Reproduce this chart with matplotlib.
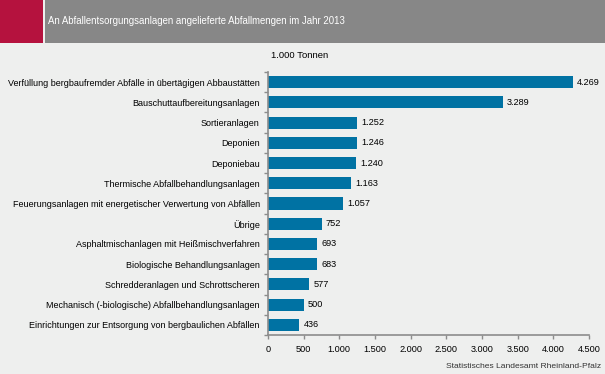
import matplotlib.pyplot as plt
from matplotlib.patches import Rectangle
import numpy as np

plt.rcParams['font.family'] = ['Liberation Sans', 'DejaVu Sans']

categories = [
    'Verfüllung bergbaufremder Abfälle in übertägigen Abbaustätten',
    'Bauschuttaufbereitungsanlagen',
    'Sortieranlagen',
    'Deponien',
    'Deponiebau',
    'Thermische Abfallbehandlungsanlagen',
    'Feuerungsanlagen mit energetischer Verwertung von Abfällen',
    'Übrige',
    'Asphaltmischanlagen mit Heißmischverfahren',
    'Biologische Behandlungsanlagen',
    'Schredderanlagen und Schrottscheren',
    'Mechanisch (-biologische) Abfallbehandlungsanlagen',
    'Einrichtungen zur Entsorgung von bergbaulichen Abfällen',
]
values = [4269, 3289, 1252, 1246, 1240, 1163, 1057, 752, 693, 683, 577, 500, 436]
xticks = [0, 500, 1000, 1500, 2000, 2500, 3000, 3500, 4000, 4500]

bg = '#eeefee'
bar_color = '#0072a3'
axis_grey = '#8c8c8c'


def fmt(v):
    return f'{v:,}'.replace(',', '.')


fig = plt.figure(figsize=(6.05, 3.74), dpi=100, facecolor=bg)

# header band
fig.patches.append(Rectangle((0, 1 - 43 / 374), 43 / 605, 43 / 374, transform=fig.transFigure,
                             facecolor='#b5123e', edgecolor='none'))
fig.patches.append(Rectangle((45 / 605, 1 - 43 / 374), 1, 43 / 374, transform=fig.transFigure,
                             facecolor='#878787', edgecolor='none'))
fig.text(48 / 605, 1 - 21 / 374, 'An Abfallentsorgungsanlagen angelieferte Abfallmengen im Jahr 2013',
         color='white', fontsize=6.9, va='center', ha='left')

ax = fig.add_axes([268 / 605, 1 - 335 / 374, 321 / 605, 263 / 374])
ax.set_facecolor(bg)

y = np.arange(len(categories))
ax.barh(y, values, height=0.6, color=bar_color)
for yi, v in zip(y, values):
    ax.text(v + 60, yi, fmt(v), va='center', ha='left', fontsize=6.6)

ax.set_ylim(len(categories) - 0.5, -0.5)
ax.set_xlim(0, 4500)
ax.set_yticks(y)
ax.set_yticklabels(categories, fontsize=6.5)
ax.set_yticks(np.arange(-0.5, len(categories)), minor=True)
ax.tick_params(axis='y', which='major', length=0, pad=6)
ax.tick_params(axis='y', which='minor', length=3, color=axis_grey, width=1)
ax.set_xticks(xticks)
ax.set_xticklabels([fmt(t) for t in xticks], fontsize=6.6)
ax.tick_params(axis='x', length=3, color=axis_grey, width=1, pad=4)

for side in ['top', 'right']:
    ax.spines[side].set_visible(False)
for side in ['left', 'bottom']:
    ax.spines[side].set_color(axis_grey)
    ax.spines[side].set_linewidth(1.2)

fig.text(300 / 605, 1 - 55 / 374, '1.000 Tonnen', fontsize=6.8, ha='center', va='center')
fig.text(601 / 605, 1 - 366 / 374, 'Statistisches Landesamt Rheinland-Pfalz', fontsize=6.1,
         ha='right', va='center', color='#333333')

plt.savefig('out.png', dpi=100, facecolor=bg)
